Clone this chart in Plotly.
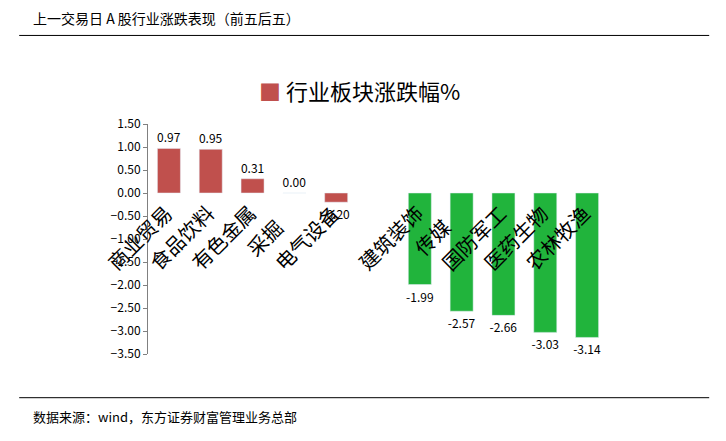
import plotly.graph_objects as go

# data
categories = ["商业贸易", "食品饮料", "有色金属", "采掘", "电气设备", "",
              "建筑装饰", "传媒", "国防军工", "医药生物", "农林牧渔"]
values = [0.97, 0.95, 0.31, 0.00, -0.20, None, -1.99, -2.57, -2.66, -3.03, -3.14]
tick_vals = [1.5, 1.0, 0.5, 0.0, -0.5, -1.0, -1.5, -2.0, -2.5, -3.0, -3.5]

RED = "#C0504D"
GREEN = "#21B43C"
FONT = "Noto Sans CJK SC"

slots = list(range(len(categories)))
colors = [RED if (v is not None and i < 5) else GREEN for i, v in enumerate(values)]
texts = ["" if v is None else f"{v:.2f}" for v in values]

fig = go.Figure()
fig.add_trace(go.Bar(
    x=slots, y=values, marker_color=colors, width=0.55,
    text=texts, textposition="outside", cliponaxis=False, constraintext="none",
    textfont=dict(size=12, color="#000000", family=FONT),
))

# rotated category labels near the zero line
for i, name in enumerate(categories):
    if not name:
        continue
    fig.add_annotation(x=i, y=0, text=name, showarrow=False, textangle=-45,
                       xshift=-30, yshift=-44, font=dict(size=20, family=FONT, color="#000000"))

# series title
fig.add_annotation(xref="paper", yref="paper", x=0.46, y=1.15, xanchor="center", yanchor="middle",
                   showarrow=False,
                   text=f"<span style='color:{RED}'>■</span> 行业板块涨跌幅%",
                   font=dict(size=22, family=FONT, color="#000000"))

# header / footer
fig.add_annotation(xref="paper", yref="paper", x=-0.255, y=1.46, xanchor="left", yanchor="middle",
                   showarrow=False, text="上一交易日 A 股行业涨跌表现（前五后五）",
                   font=dict(size=14, family=FONT, color="#000000"))
fig.add_annotation(xref="paper", yref="paper", x=-0.255, y=-0.27, xanchor="left", yanchor="middle",
                   showarrow=False, text="数据来源：wind，东方证券财富管理业务总部",
                   font=dict(size=13, family=FONT, color="#000000"))
fig.add_shape(type="line", xref="paper", yref="paper", x0=-0.28, x1=1.22, y0=1.385, y1=1.385,
              line=dict(color="#000000", width=1))
fig.add_shape(type="line", xref="paper", yref="paper", x0=-0.28, x1=1.22, y0=-0.19, y1=-0.19,
              line=dict(color="#000000", width=1))

fig.update_layout(
    width=726, height=441, margin=dict(l=140, r=126, t=116, b=95),
    paper_bgcolor="white", plot_bgcolor="white", showlegend=False,
    font=dict(family=FONT, color="#000000"),
    xaxis=dict(range=[-0.5, len(categories) - 0.5], showticklabels=False, showgrid=False,
               zeroline=False, showline=False, ticks=""),
    yaxis=dict(range=[-3.5, 1.5], tickvals=tick_vals, tickformat=".2f", showgrid=False,
               zeroline=False, showline=True, linecolor="#808080", ticks="outside",
               tickcolor="#808080", ticklen=4, tickfont=dict(size=12)),
)

fig.write_html("out.html")
